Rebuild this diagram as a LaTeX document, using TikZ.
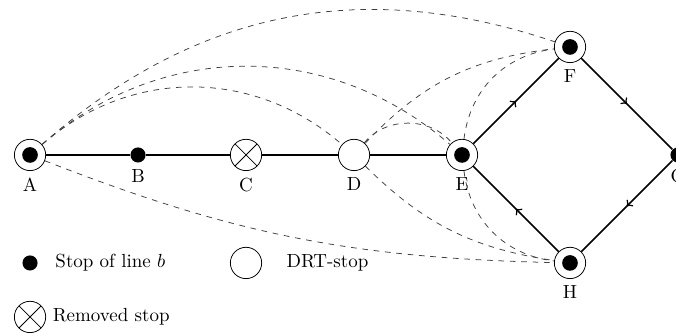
\documentclass[tikz,border=0pt]{standalone}
\usepackage{amsmath}
\usepackage{tikz}
\usetikzlibrary{arrows,positioning,decorations.markings}

\begin{document}
\begin{tikzpicture}[>=to, node distance=2cm, on grid]
\tikzstyle{stop}=[circle,fill=black,inner sep=0pt,minimum size=2.8mm,label distance=1.5mm]
\tikzstyle{drt}=[circle,draw=black,thin,inner sep=0pt,minimum size=5.8mm]
\tikzstyle{hub}=[drt,path picture={\fill (path picture bounding box.center) circle (1.45mm);}]
\tikzstyle{removed}=[drt,path picture={\draw[thin] (path picture bounding box.north west) -- (path picture bounding box.south east)
                                                (path picture bounding box.south west) -- (path picture bounding box.north east);}]
\tikzstyle{link}=[thin,dashed,black!75]
\tikzstyle{midarrow}=[postaction={decorate,decoration={markings,mark=at position 0.5 with {\arrow{>}}}}]
\useasboundingbox (-0.556,-3.352) rectangle (11.963,2.870);
% line b
\node[hub, label=below:A]     (A)                                  {};
\node[stop, label=below:B]    (B) [right=of A]                     {};
\node[removed, label=below:C] (C) [right=of B]                     {};
\node[drt, label=below:D]     (D) [right=of C]                     {};
\node[hub, label=below:E]     (E) [right=of D]                     {};
\node[hub, label=below:F]     (F) [above right=2cm and 2cm of E]   {};
\node[stop, label=below:G]    (G) [below right=2cm and 2cm of F]   {};
\node[hub, label=below:H]     (H) [below left=2cm and 2cm of G]    {};
\path[thick]
(A) edge (B)
(B) edge (C)
(C) edge (D)
(D) edge (E)
(E) edge[midarrow] (F)
(F) edge[midarrow] (G)
(G) edge[midarrow] (H)
(H) edge[midarrow] (E);
% DRT links
\path[link]
(A) edge[bend left=30]  (F)
    edge[bend left=41]  (E)
    edge[bend left=41]  (D)
    edge[bend right=10] (H)
(D) edge[bend left=20]  (F)
    edge[bend left=50]  (E)
    edge[bend right=18] (H)
(E) edge[bend left=38]  (F)
    edge[bend right=38] (H);
% legend
\node[stop]    (lstop) [below=2cm of A]      {};
\node[drt]     (ldrt)  [right=4cm of lstop]  {};
\node[removed] (lrem)  [below=1cm of lstop]  {};
\node[anchor=west,xshift=2mm]   (tstop) at (lstop.east) {Stop of line $b$};
\node[anchor=west,xshift=3.3mm] (tdrt)  at (ldrt.east)  {DRT-stop};
\node[anchor=west]              (trem)  at (lrem.east)  {Removed stop};
\end{tikzpicture}
\end{document}
